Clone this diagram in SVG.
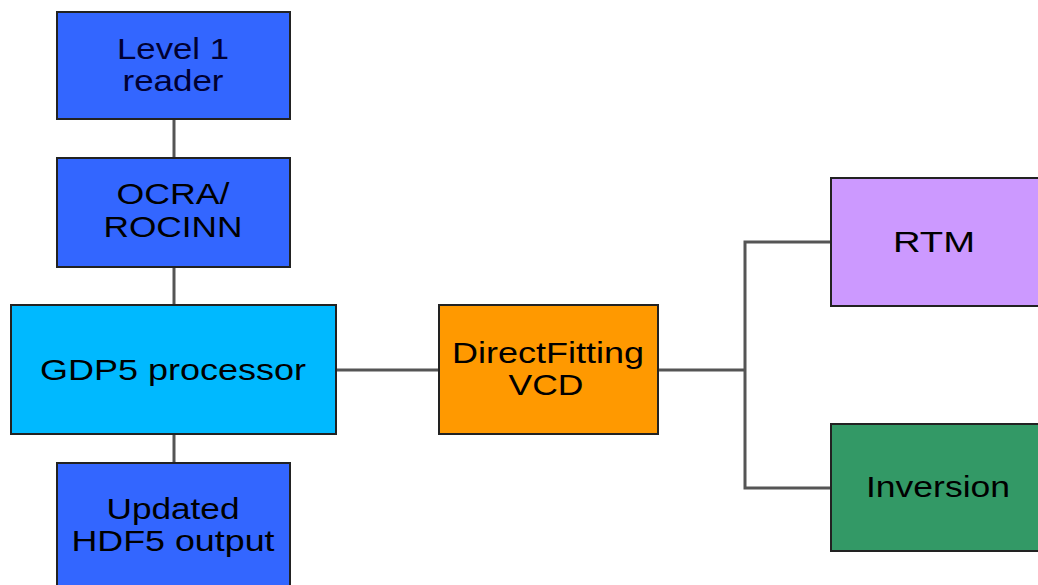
<svg xmlns="http://www.w3.org/2000/svg" width="1038" height="585" viewBox="0 0 1038 585">
  <style>
    .box { stroke: #222222; stroke-width: 2; }
    .blue { fill: #3366ff; }
    .cyan { fill: #00b9ff; }
    .orange { fill: #ff9900; }
    .purple { fill: #cc99ff; }
    .green { fill: #339966; }
    .lbl { font-family: "Liberation Sans", Arial, sans-serif; font-size: 30px; fill: #000000; text-anchor: middle; }
    .navy { fill: #000033; }
    .wire { fill: none; stroke: #555555; stroke-width: 3; }
  </style>
  <rect width="1038" height="585" fill="#ffffff"/>

  <g id="connectors">
    <line class="wire" x1="174" y1="120" x2="174" y2="158"/>
    <line class="wire" x1="174" y1="267" x2="174" y2="305"/>
    <line class="wire" x1="174" y1="434" x2="174" y2="463"/>
    <line class="wire" x1="336" y1="370" x2="439" y2="370"/>
    <polyline class="wire" points="658,370 745,370"/>
    <polyline class="wire" points="831,242 745,242 745,488 831,488"/>
  </g>

  <g id="level1-reader">
    <rect class="box blue" x="57" y="12" width="233" height="107"/>
    <text class="lbl navy" x="173" y="59" textLength="112" lengthAdjust="spacingAndGlyphs">Level 1</text>
    <text class="lbl navy" x="173" y="91" textLength="101" lengthAdjust="spacingAndGlyphs">reader</text>
  </g>

  <g id="ocra-rocinn">
    <rect class="box blue" x="57" y="158" width="233" height="109"/>
    <text class="lbl" x="173" y="204" textLength="113" lengthAdjust="spacingAndGlyphs">OCRA/</text>
    <text class="lbl" x="173" y="237" textLength="139" lengthAdjust="spacingAndGlyphs">ROCINN</text>
  </g>

  <g id="gdp5-processor">
    <rect class="box cyan" x="11" y="305" width="325" height="129"/>
    <text class="lbl" x="173" y="380" textLength="266" lengthAdjust="spacingAndGlyphs">GDP5 processor</text>
  </g>

  <g id="hdf5-output">
    <rect class="box blue" x="57" y="463" width="233" height="140"/>
    <text class="lbl" x="173" y="519" textLength="133" lengthAdjust="spacingAndGlyphs">Updated</text>
    <text class="lbl" x="173" y="551" textLength="203" lengthAdjust="spacingAndGlyphs">HDF5 output</text>
  </g>

  <g id="directfitting-vcd">
    <rect class="box orange" x="439" y="305" width="219" height="129"/>
    <text class="lbl" x="548" y="363" textLength="192" lengthAdjust="spacingAndGlyphs">DirectFitting</text>
    <text class="lbl" x="546" y="395" textLength="75" lengthAdjust="spacingAndGlyphs">VCD</text>
  </g>

  <g id="rtm">
    <rect class="box purple" x="831" y="178" width="220" height="128"/>
    <text class="lbl" x="934" y="252" textLength="82" lengthAdjust="spacingAndGlyphs">RTM</text>
  </g>

  <g id="inversion">
    <rect class="box green" x="831" y="424" width="220" height="127"/>
    <text class="lbl" x="938" y="497" textLength="144" lengthAdjust="spacingAndGlyphs">Inversion</text>
  </g>
</svg>
